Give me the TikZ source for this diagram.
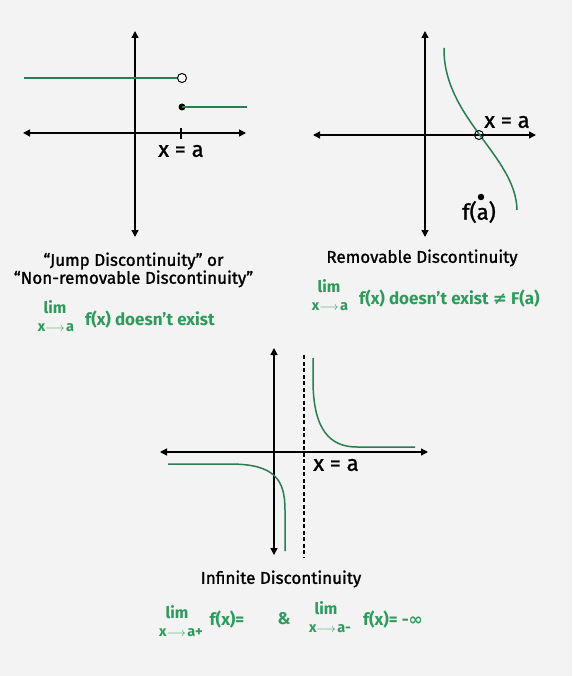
\documentclass[tikz,border=0pt]{standalone}
\usepackage{fontspec}
\setmainfont{Fira Sans}
\newfontfamily\medfont{Fira Sans}[FakeBold=1.3]
\newfontfamily\symfont{DejaVu Sans}
\usetikzlibrary{arrows.meta}
\definecolor{bgc}{HTML}{F3F3F3}
\definecolor{curvec}{HTML}{2B7D4F}
\definecolor{textg}{HTML}{2E9A5B}
\tikzset{
  axis/.style={line width=1.4pt, black, {Triangle[length=7pt,width=7pt]}-{Triangle[length=7pt,width=7pt]}},
  gline/.style={line width=1.5pt, curvec},
  xlabel/.style={font=\medfont\fontsize{22}{24}\selectfont, inner sep=0pt},
  caption/.style={font=\medfont\fontsize{17}{15.5}\selectfont, inner sep=0pt, align=center},
  limtxt/.style={font=\fontsize{17}{19}\selectfont\bfseries, text=textg, inner sep=0pt, text depth=0pt},
  limhead/.style={font=\fontsize{16}{17}\selectfont\bfseries, text=textg, inner sep=0pt, text depth=0pt, text height=0.7em},
  limsub/.style={font=\fontsize{14.5}{15}\selectfont\bfseries, text=textg, inner sep=0pt, text height=0.5em, text depth=0pt},
}
\newcommand{\larr}{{\fontsize{13}{13}\selectfont$\longrightarrow$}\kern1.5pt}
\begin{document}
\begin{tikzpicture}[x=1pt,y=-1pt]
\fill[bgc] (0,0) rectangle (572,676);
\useasboundingbox (0,0) rectangle (572,676);

% ---------- Panel 1: jump ----------
\coordinate (a1t) at (135,31); \coordinate (a1b) at (135,237);
\coordinate (a1l) at (23,133); \coordinate (a1r) at (246,133);
\draw[axis] (a1t) -- (a1b);
\draw[axis] (a1l) -- (a1r);
\coordinate (t1a) at (181,128); \coordinate (t1b) at (181,139);
\draw[line width=1.4pt] (t1a) -- (t1b);
\coordinate (j1l) at (24,78);
\node[circle, draw=black, fill=white, line width=1pt, minimum size=9pt, inner sep=0pt] (oc1) at (182,78) {};
\draw[gline] (j1l) -- (oc1.west);
\node[circle, fill=black, minimum size=7pt, inner sep=0pt] (fd1) at (182,107) {};
\coordinate (j1r) at (247,107);
\draw[gline] (fd1.center) -- (j1r);
\node[xlabel] (xa1) at (181,151) {x = a};
\node[caption] (cap1) at (133.5,270) {“Jump Discontinuity” or\\“Non-removable Discontinuity”};
\node[limhead] (lim1) at (55,310) {lim};
\node[limsub] (sub1) at (56,329) {x\larr a};
\node[limtxt, anchor=west] (f1) at (85,318) {f(x) doesn{\char"27}t exist};

% ---------- Panel 2: removable ----------
\coordinate (a2t) at (425,31); \coordinate (a2b) at (425,237);
\coordinate (a2l) at (313,135); \coordinate (a2r) at (536,135);
\draw[axis] (a2t) -- (a2b);
\draw[axis] (a2l) -- (a2r);
\coordinate (c2s) at (444,48); \coordinate (c2e) at (517,210);
\draw[gline] (c2s) .. controls (443,118) and (516,156) .. (c2e);
\node[circle, draw=black, line width=1pt, minimum size=9pt, inner sep=0pt] (oc2) at (479,135) {};
\node[circle, fill=black, minimum size=6.5pt, inner sep=0pt] (fd2) at (481,197) {};
\node[xlabel] (xa2) at (507,122) {x = a};
\node[xlabel] (fa2) at (479,212) {f(a)};
\node[caption] (cap2) at (422,258) {Removable Discontinuity};
\node[limhead] (lim2) at (329,289) {lim};
\node[limsub] (sub2) at (330,308) {x\larr a};
\node[limtxt, anchor=west] (f2) at (359,297) {f(x) doesn{\char"27}t exist {\symfont ≠} F(a)};

% ---------- Panel 3: infinite ----------
\coordinate (a3t) at (274,348); \coordinate (a3b) at (274,555);
\coordinate (a3l) at (160,452); \coordinate (a3r) at (428,452);
\draw[axis] (a3t) -- (a3b);
\draw[axis] (a3l) -- (a3r);
\coordinate (d3t) at (304,355); \coordinate (d3b) at (304,557);
\draw[line width=1.3pt, dash pattern=on 4pt off 2.5pt] (d3t) -- (d3b);
\coordinate (r3s) at (313,358); \coordinate (r3m) at (357,447); \coordinate (r3e) at (415,447);
\draw[gline] (r3s) -- (313,380) .. controls (313,430) and (330,447) .. (r3m) -- (r3e);
\coordinate (l3s) at (168,464); \coordinate (l3m) at (230,464); \coordinate (l3e) at (285,551);
\draw[gline] (l3s) -- (l3m) .. controls (275,464) and (285,480) .. (285,510) -- (l3e);
\node[xlabel] (xa3) at (336,465) {x = a};
\node[caption] (cap3) at (281,579) {Infinite Discontinuity};
\node[limhead] (lim3a) at (177,615) {lim};
\node[limsub] (sub3a) at (181,634) {x\larr a+};
\node[limtxt] (f3a) at (227,618) {f(x)=};
\node[limtxt] (amp) at (284,618) {\&};
\node[limhead] (lim3b) at (326,611) {lim};
\node[limsub] (sub3b) at (330,630) {x\larr a-};
\node[limtxt] (f3b) at (393,618) {f(x)= -{\symfont ∞}};
\end{tikzpicture}
\end{document}
